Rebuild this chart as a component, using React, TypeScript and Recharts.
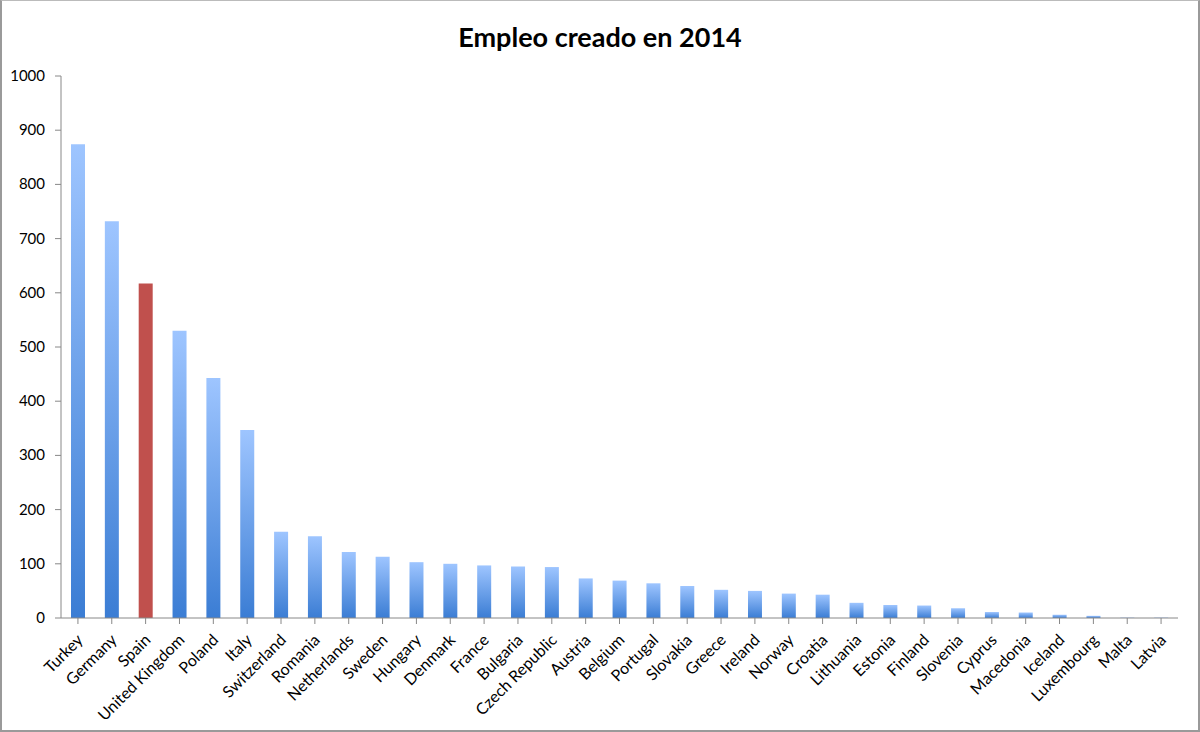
import React from 'react';
import { BarChart, Bar, XAxis, YAxis, Cell } from 'recharts';

const countries = [
  'Turkey', 'Germany', 'Spain', 'United Kingdom', 'Poland', 'Italy', 'Switzerland', 'Romania',
  'Netherlands', 'Sweden', 'Hungary', 'Denmark', 'France', 'Bulgaria', 'Czech Republic', 'Austria',
  'Belgium', 'Portugal', 'Slovakia', 'Greece', 'Ireland', 'Norway', 'Croatia', 'Lithuania',
  'Estonia', 'Finland', 'Slovenia', 'Cyprus', 'Macedonia', 'Iceland', 'Luxembourg', 'Malta', 'Latvia',
];
const values = [
  874, 732, 617, 530, 443, 347, 159, 151,
  122, 113, 103, 100, 97, 95, 94, 73,
  69, 64, 59, 52, 50, 45, 43, 28,
  24, 23, 18, 11, 10, 6, 4, 0.8, 0.8,
];
const highlight = 'Spain';
const yTicks = [0, 100, 200, 300, 400, 500, 600, 700, 800, 900, 1000];

const data = countries.map((c, i) => ({ name: c, value: values[i] }));

const FONT = 'Lato, "Open Sans", sans-serif';

const XTick = (props: any) => {
  const { x, y, payload } = props;
  return (
    <g transform={`translate(${x + 6},${y + 15})`}>
      <text x={0} y={0} textAnchor="end" transform="rotate(-45)" fontSize={16} fontFamily={FONT} fill="#000">
        {payload.value}
      </text>
    </g>
  );
};

const YTick = (props: any) => {
  const { x, y, payload } = props;
  return (
    <text x={x - 8} y={y + 5} textAnchor="end" fontSize={15} fontFamily={FONT} fill="#000">
      {payload.value}
    </text>
  );
};

export default function App() {
  return (
    <div style={{ position: 'absolute', left: 0, top: 0, width: 1200, height: 732, background: '#fff' }}>
      <div style={{ position: 'absolute', left: 0, top: 0, width: 1196, height: 729, border: '2px solid #9a9a9a', borderTop: '1px solid #bbb' }} />
      <div style={{ position: 'absolute', left: 0, top: 20, width: 1200, textAlign: 'center', fontFamily: FONT, fontWeight: 700, fontSize: 27, color: '#000' }}>
        Empleo creado en 2014
      </div>
      <div style={{ position: 'absolute', left: 0, top: 0 }}>
        <BarChart width={1200} height={732} data={data} margin={{ top: 76, right: 22, left: 0, bottom: 14 }}>
          <defs>
            <linearGradient id="blueGrad" x1="0" y1="0" x2="0" y2="1">
              <stop offset="0%" stopColor="#9EC5FF" />
              <stop offset="100%" stopColor="#3B7DD4" />
            </linearGradient>
          </defs>
          <XAxis
            dataKey="name"
            interval={0}
            height={100}
            tick={<XTick />}
            tickLine={{ stroke: '#888' }}
            axisLine={{ stroke: '#888' }}
            tickSize={6}
          />
          <YAxis
            width={61}
            domain={[0, 1000]}
            ticks={yTicks}
            interval={0}
            tick={<YTick />}
            tickLine={{ stroke: '#888' }}
            axisLine={{ stroke: '#888' }}
            tickSize={6}
          />
          <Bar dataKey="value" barSize={14} isAnimationActive={false}>
            {data.map((d) => (
              <Cell key={d.name} fill={d.name === highlight ? '#C0504D' : 'url(#blueGrad)'} />
            ))}
          </Bar>
        </BarChart>
      </div>
    </div>
  );
}
